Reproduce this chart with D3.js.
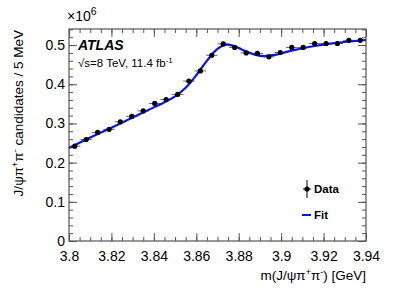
<!DOCTYPE html>
<html><head><meta charset="utf-8">
<script src="https://cdn.jsdelivr.net/npm/d3@7"></script>
<style>body{margin:0;background:#fff}svg{display:block;font-family:"Liberation Sans",Arial,sans-serif}</style>
</head><body><svg id="c" width="407" height="292"></svg>
<script>
// Data: bin centres (GeV) and candidates (x10^6)
const mass = [3.8027,3.8081,3.8135,3.8189,3.8242,3.8296,3.8350,3.8404,3.8458,3.8512,3.8565,3.8619,3.8673,3.8727,3.8781,3.8835,3.8888,3.8942,3.8996,3.9050,3.9104,3.9158,3.9212,3.9265,3.9319,3.9373];
const counts = [0.242,0.259,0.277,0.285,0.304,0.318,0.332,0.351,0.361,0.374,0.408,0.434,0.474,0.503,0.494,0.480,0.479,0.470,0.481,0.494,0.494,0.504,0.504,0.504,0.512,0.512];
const errs = 0.004;
const binHalf = 0.0027;
const fitX = [3.800,3.810,3.820,3.830,3.840,3.845,3.850,3.855,3.860,3.865,3.870,3.874,3.878,3.883,3.888,3.892,3.897,3.905,3.915,3.925,3.940];
const fitY = [0.237,0.264,0.289,0.315,0.341,0.354,0.369,0.391,0.423,0.460,0.490,0.501,0.497,0.485,0.475,0.472,0.475,0.486,0.497,0.505,0.513];
const xTicks = [3.8,3.82,3.84,3.86,3.88,3.9,3.92,3.94];
const yTicks = [0,0.1,0.2,0.3,0.4,0.5];

const svg = d3.select("#c");
const L=69, R=366, T=29, B=241;
const x = d3.scaleLinear().domain([3.8,3.94]).range([L,R]);
const y = d3.scaleLinear().domain([0,0.541]).range([B,T]);
const axCol = "#555";

const xMinor = d3.range(3.8,3.9401,0.005).map(v=>+v.toFixed(3));
const yMinor = d3.range(0,0.541,0.02).map(v=>+v.toFixed(3));
function tk(g){ g.select(".domain").remove(); g.selectAll("line").attr("stroke",axCol); }
svg.append("g").attr("transform",`translate(0,${B})`).call(d3.axisBottom(x).tickValues(xMinor).tickSize(-4).tickFormat("")).call(tk);
svg.append("g").attr("transform",`translate(0,${B})`).call(d3.axisBottom(x).tickValues(xTicks).tickSize(-8).tickFormat(d3.format("")).tickPadding(10)).call(tk)
  .selectAll("text").attr("font-size",14).attr("fill","#000").attr("dy","0.71em");
svg.append("g").attr("transform",`translate(0,${T})`).call(d3.axisTop(x).tickValues(xMinor).tickSize(-4).tickFormat("")).call(tk);
svg.append("g").attr("transform",`translate(0,${T})`).call(d3.axisTop(x).tickValues(xTicks).tickSize(-8).tickFormat("")).call(tk);
svg.append("g").attr("transform",`translate(${L},0)`).call(d3.axisLeft(y).tickValues(yMinor).tickSize(-4).tickFormat("")).call(tk);
svg.append("g").attr("transform",`translate(${L},0)`).call(d3.axisLeft(y).tickValues(yTicks).tickSize(-8).tickFormat(d=>d===0?"0":d3.format(".1f")(d)).tickPadding(4)).call(tk)
  .selectAll("text").attr("font-size",14).attr("fill","#000");
svg.append("g").attr("transform",`translate(${R},0)`).call(d3.axisRight(y).tickValues(yMinor).tickSize(-4).tickFormat("")).call(tk);
svg.append("g").attr("transform",`translate(${R},0)`).call(d3.axisRight(y).tickValues(yTicks).tickSize(-8).tickFormat("")).call(tk);
svg.append("rect").attr("x",L).attr("y",T).attr("width",R-L).attr("height",B-T).attr("fill","none").attr("stroke",axCol).attr("stroke-width",1.2);

// Data error bars
const bars = svg.append("g");
mass.forEach((m,i)=>{
  bars.append("line").attr("x1",x(m-binHalf)).attr("x2",x(m+binHalf)).attr("y1",y(counts[i])).attr("y2",y(counts[i])).attr("stroke","#666").attr("stroke-width",1);
  bars.append("line").attr("x1",x(m)).attr("x2",x(m)).attr("y1",y(counts[i]-errs)).attr("y2",y(counts[i]+errs)).attr("stroke","#000").attr("stroke-width",1);
});
// Fit curve
svg.append("path").datum(fitX.map((v,i)=>[v,fitY[i]]))
  .attr("d",d3.line().x(d=>x(d[0])).y(d=>y(d[1])).curve(d3.curveCatmullRom.alpha(0.5)))
  .attr("fill","none").attr("stroke","#0a14f0").attr("stroke-width",2.2);
// Points
svg.append("g").selectAll("circle").data(mass).join("circle")
  .attr("cx",d=>x(d)).attr("cy",(d,i)=>y(counts[i])).attr("r",2.6).attr("fill","#000");

// Texts
svg.append("text").attr("x",67).attr("y",21).attr("font-size",14).html('×10<tspan dy="-6" font-size="10.5">6</tspan>');
svg.append("text").attr("x",78).attr("y",50).attr("font-size",14).attr("font-weight","bold").attr("font-style","italic").text("ATLAS");
svg.append("text").attr("x",78).attr("y",67).attr("font-size",11.5).html('√s=8 TeV, 11.4 fb<tspan dy="-4" font-size="8">-1</tspan>');
svg.append("text").attr("transform","translate(23,30) rotate(-90)").attr("text-anchor","end").attr("font-size",13.5)
  .html('J/ψπ<tspan dy="-5" font-size="9">+</tspan><tspan dy="5">π</tspan><tspan dy="-5" font-size="9">-</tspan><tspan dy="5"> candidates / 5 MeV</tspan>');
svg.append("text").attr("x",R).attr("y",280).attr("text-anchor","end").attr("font-size",13.5)
  .html('m(J/ψπ<tspan dy="-5" font-size="9">+</tspan><tspan dy="5">π</tspan><tspan dy="-5" font-size="9">-</tspan><tspan dy="5">) [GeV]</tspan>');

// Legend
svg.append("line").attr("x1",307).attr("x2",307).attr("y1",180).attr("y2",198).attr("stroke","#000");
svg.append("line").attr("x1",303).attr("x2",311).attr("y1",189).attr("y2",189).attr("stroke","#000");
svg.append("circle").attr("cx",307).attr("cy",189).attr("r",2.6).attr("fill","#000");
svg.append("text").attr("x",314).attr("y",193).attr("font-size",11.5).attr("font-weight","bold").text("Data");
svg.append("line").attr("x1",302).attr("x2",311).attr("y1",215).attr("y2",215).attr("stroke","#0a14f0").attr("stroke-width",2);
svg.append("text").attr("x",314).attr("y",219).attr("font-size",11.5).attr("font-weight","bold").text("Fit");
</script></body></html>
